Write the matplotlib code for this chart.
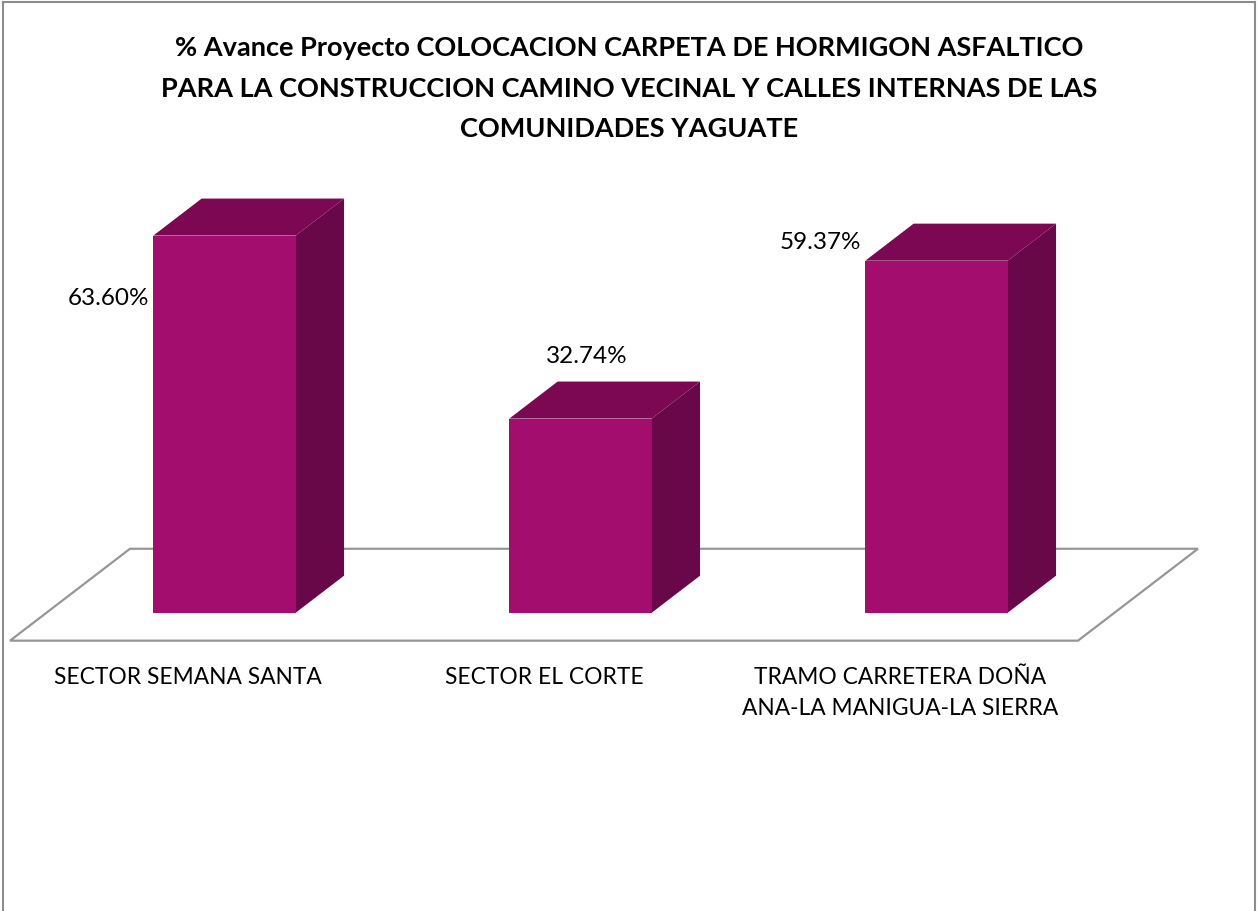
import numpy as np
import matplotlib
matplotlib.use('Agg')
from matplotlib import pyplot as plt
from matplotlib.patches import Polygon
from matplotlib.lines import Line2D

# datos del grafico
categorias = ['SECTOR SEMANA SANTA', 'SECTOR EL CORTE',
              'TRAMO CARRETERA DOÑA\nANA-LA MANIGUA-LA SIERRA']
avance = [63.60, 32.74, 59.37]
etiquetas = ['63.60%', '32.74%', '59.37%']
titulo = ('% Avance Proyecto COLOCACION CARPETA DE HORMIGON ASFALTICO\n'
          'PARA LA CONSTRUCCION CAMINO VECINAL Y CALLES INTERNAS DE LAS\n'
          'COMUNIDADES YAGUATE')

# colores de las caras
c_frente = '#A30D6E'
c_arriba = '#7C0752'
c_lado = '#690848'
c_piso = '#969696'

plt.rcParams['font.family'] = ['Lato', 'DejaVu Sans']

fig = plt.figure(figsize=(12.59, 9.12), dpi=100)
ax = fig.add_axes([0, 0, 1, 1])
ax.set_xlim(-0.6306, 2.906)
ax.set_ylim(-50.3, 103.5)
ax.axis('off')

# perspectiva: desplazamiento por profundidad (unidades de datos)
DX, DY = 0.337, 15.5
d0, d1 = 0.304, 0.707  # frente y fondo de las barras
ancho = 0.40
x = np.arange(len(avance))


def proy(px, py, d):
    return (px + (d - d0) * DX, py + (d - d0) * DY)


# piso
xmin, xmax = -0.5, len(avance) - 0.5
piso = [proy(xmin, 0, 0), proy(xmax, 0, 0), proy(xmax, 0, 1), proy(xmin, 0, 1)]
ax.add_patch(Polygon(piso, closed=True, facecolor='white',
                     edgecolor=c_piso, linewidth=1.6, zorder=1))

# barras 3d
bars = ax.bar(x, avance, width=ancho, color=c_frente, zorder=3,
              edgecolor='none')
for b, v in zip(bars, avance):
    x0 = b.get_x()
    x1 = x0 + b.get_width()
    top = [proy(x0, v, d0), proy(x1, v, d0), proy(x1, v, d1), proy(x0, v, d1)]
    lado = [proy(x1, 0, d0), proy(x1, 0, d1), proy(x1, v, d1), proy(x1, v, d0)]
    ax.add_patch(Polygon(top, closed=True, facecolor=c_arriba,
                         edgecolor='none', zorder=2.5))
    ax.add_patch(Polygon(lado, closed=True, facecolor=c_lado,
                         edgecolor='none', zorder=2.5))

# etiquetas de datos (posicion relativa a cada barra)
off_x = [-0.327, 0.018, -0.326]
off_y = [-10.5, 10.6, 3.2]
for i, v in enumerate(avance):
    ax.text(x[i] + off_x[i], v + off_y[i], etiquetas[i], ha='center',
            va='center', fontsize=17.5, color='black', zorder=5)

# etiquetas de categorias
fx, _ = proy(0, 0, 0)
for i, c in enumerate(categorias):
    ax.text(x[i] + fx, -8.9, c, ha='center', va='top', fontsize=16.4,
            linespacing=1.61, color='black')

# titulo
fig.text(0.5, 0.960, titulo, ha='center', va='top', fontsize=19.5,
         fontweight='bold', linespacing=1.81)

# borde del grafico
for xs, ys in [([0.0024, 0.0024], [0, 0.9967]), ([0.9968, 0.9968], [0, 0.9967]),
               ([0.0024, 0.9968], [0.9967, 0.9967])]:
    fig.add_artist(Line2D(xs, ys, color='#8c8c8c', linewidth=1.5,
                          transform=fig.transFigure))

plt.savefig('out.png', dpi=100)
